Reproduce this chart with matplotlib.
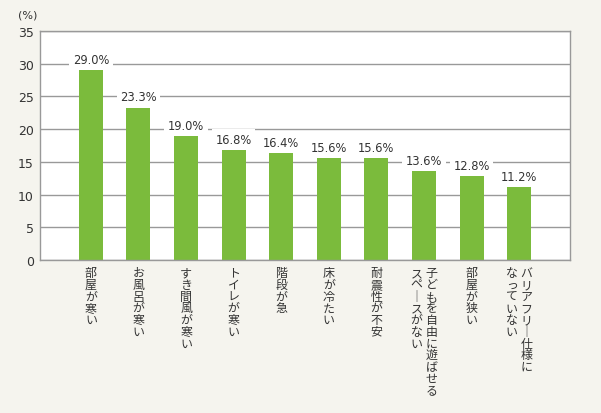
import matplotlib
matplotlib.use("Agg")
import matplotlib.pyplot as plt

plt.rcParams['font.family'] = ['Noto Sans CJK JP', 'DejaVu Sans']

categories = ["部屋が寒い", "お風呂が寒い", "すき間風が寒い", "トイレが寒い", "階段が急",
              "床が冷たい", "耐震性が不安", "子どもを自由に遊ばせる\nスペースがない",
              "部屋が狭い", "バリアフリー仕様に\nなっていない"]
values = [29.0, 23.3, 19.0, 16.8, 16.4, 15.6, 15.6, 13.6, 12.8, 11.2]
yticks = [0, 5, 10, 15, 20, 25, 30, 35]

BG = "#f5f4ee"
GREEN = "#7bbb3c"
GRID = "#999999"
TXT = "#333333"
NUMFONT = ['DejaVu Sans']

fig = plt.figure(figsize=(6.01, 4.14), dpi=100, facecolor=BG)
ax = fig.add_axes([40/601, 1-261/414, 530/601, 229/414])
ax.set_facecolor("white")

x = list(range(len(values)))
ax.bar(x, values, width=0.505, color=GREEN, zorder=2)
ax.set_xlim(-1.07, len(values) - 1 + 1.07)
ax.set_ylim(0, 35)
ax.set_yticks(yticks)
ax.set_yticklabels([str(t) for t in yticks], fontsize=9, color=TXT, family=NUMFONT)
ax.tick_params(axis='y', length=0, pad=4.5)
ax.set_xticks([])
ax.yaxis.grid(True, color=GRID, linewidth=1, zorder=0)
ax.set_axisbelow(True)
for s in ax.spines.values():
    s.set_color(GRID)
    s.set_linewidth(1)

ax.text(-0.042, 1.07, "(%)", transform=ax.transAxes, fontsize=8, color=TXT,
        ha='left', va='center', family=NUMFONT)

for xi, v in zip(x, values):
    ax.annotate(f"{v:.1f}%", xy=(xi, v), xytext=(0, 3), textcoords='offset points',
                ha='center', va='bottom', fontsize=8.3, color=TXT, family=NUMFONT,
                bbox=dict(boxstyle='square,pad=0.3', fc='white', ec='none'), zorder=3)

pitch_pt = 11.7 * 0.72
col_pt = 15 * 0.72
for xi, lab in zip(x, categories):
    cols = lab.split("\n")
    n = len(cols)
    for j, col in enumerate(cols):
        dx = ((n - 1) / 2 - j) * col_pt
        for k, ch in enumerate(col):
            glyph = "｜" if ch == "ー" else ch
            ax.annotate(glyph, xy=(xi, 0), xycoords=('data', 'axes fraction'),
                        xytext=(dx, -7 * 0.72 - k * pitch_pt - pitch_pt / 2),
                        textcoords='offset points', ha='center', va='center',
                        fontsize=8.6, color=TXT, annotation_clip=False)

fig.savefig("out.png", dpi=100, facecolor=BG)
